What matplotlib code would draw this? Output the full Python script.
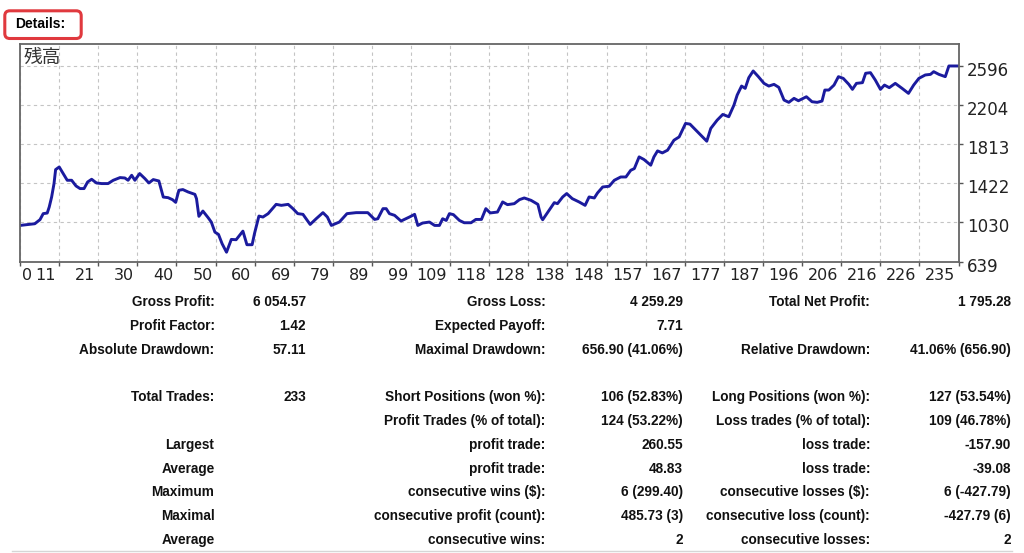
import numpy as np
import matplotlib.pyplot as plt
from matplotlib.patches import FancyBboxPatch
from matplotlib.transforms import ScaledTranslation
from matplotlib.lines import Line2D

# Balance curve (trade number, balance)
trade_no = [0, 3.7, 5, 5.8, 6.8, 7.3, 7.9, 8.5, 8.9, 9.8, 10.8, 11.8, 12.9, 14, 15, 16,
            16.9, 17.9, 19.1, 20.4, 22, 23.3, 25, 26.2, 27, 27.9, 28.7, 29.9, 31.2, 32.2,
            33.3, 34.7, 35.8, 37, 38.1, 38.9, 39.7, 40.7, 42, 43.7, 44.1, 44.7, 45.7, 47,
            47.8, 48.7, 49.6, 50.5, 51.6, 52.8, 54, 55.7, 56.7, 58, 58.6, 59.7, 60.7, 62,
            64, 65.3, 67, 68.2, 69.4, 70.7, 72.5, 74, 75.7, 76.8, 77.8, 79.8, 81.7, 84,
            86.9, 88.6, 89.4, 90.7, 91.5, 92.3, 93.6, 95.2, 97.3, 98.6, 99.4, 100.6, 102.3,
            103.6, 104.8, 105.6, 106.5, 107.3, 108.3, 109.8, 111, 112.7, 113.9, 115.3,
            116.4, 117.5, 119.3, 120.6, 121.8, 123.5, 124.8, 126, 127.7, 129.4, 130.2,
            130.6, 132.2, 133.5, 134.3, 135.6, 136.6, 138, 139.7, 141.2, 142.2, 143.5,
            144.3, 145.6, 147.2, 148.5, 150.1, 151.4, 152.6, 153.5, 154.7, 155.9, 157.6,
            158.4, 159.3, 160.5, 161.8, 163.4, 164.7, 166.3, 167.4, 169.3, 171.6, 172.6,
            174.2, 175.6, 177.1, 178.4, 179.2, 180.3, 181.2, 182.1, 183.2, 184.5, 185.9,
            187.1, 188.4, 189.6, 190.9, 192.1, 193.4, 194.5, 196.5, 197.9, 199.2, 200.4,
            201.1, 202.1, 203.4, 204.5, 205.7, 207.1, 208, 209, 210.5, 211.3, 212.5, 213.7,
            215, 216, 217.2, 218.7, 220.4, 222, 223.3, 224.6, 226.2, 227.5, 228.3, 229.6,
            231.2, 232.1, 234.4]
balance = [1000, 1017, 1058, 1118, 1124, 1184, 1284, 1419, 1559, 1585, 1519, 1452, 1452,
           1395, 1369, 1369, 1435, 1462, 1425, 1419, 1419, 1452, 1479, 1475, 1452, 1502,
           1452, 1519, 1469, 1425, 1459, 1445, 1284, 1278, 1258, 1231, 1352, 1359, 1335,
           1311, 1268, 1091, 1144, 1078, 1034, 933, 910, 817, 732, 860, 857, 943, 807, 807,
           920, 1094, 1084, 1118, 1211, 1201, 1211, 1168, 1118, 1111, 1010, 1067, 1128,
           1084, 1000, 1034, 1118, 1128, 1128, 1060, 1067, 1168, 1168, 1118, 1101, 1044,
           1084, 1111, 1000, 1024, 1034, 1000, 1000, 1067, 1050, 1118, 1108, 1050, 1027,
           1027, 1060, 1060, 1168, 1125, 1134, 1235, 1208, 1218, 1258, 1275, 1251, 1211,
           1084, 1057, 1151, 1228, 1218, 1285, 1319, 1268, 1235, 1201, 1285, 1275, 1325,
           1385, 1392, 1452, 1485, 1485, 1552, 1569, 1686, 1660, 1603, 1686, 1746, 1726,
           1753, 1853, 1886, 2021, 2014, 1937, 1843, 1971, 2054, 2111, 2088, 2205, 2305,
           2395, 2372, 2479, 2546, 2489, 2422, 2395, 2412, 2382, 2255, 2232, 2272, 2248,
           2288, 2238, 2232, 2245, 2355, 2355, 2405, 2489, 2472, 2412, 2362, 2422, 2429,
           2523, 2529, 2456, 2362, 2405, 2379, 2422, 2372, 2322, 2405, 2472, 2506, 2512,
           2539, 2512, 2489, 2596, 2596]

x_tick_labels = ['0', '11', '21', '30', '40', '50', '60', '69', '79', '89', '99', '109',
                 '118', '128', '138', '148', '157', '167', '177', '187', '196', '206',
                 '216', '226', '235']
y_tick_values = [639, 1030.4, 1421.8, 1813.2, 2204.6, 2596]
y_tick_labels = ['639', '1030', '1422', '1813', '2204', '2596']

# Report table, one entry per row ('' = empty cell)
col1_labels = ['Gross Profit:', 'Profit Factor:', 'Absolute Drawdown:', '', 'Total Trades:',
               '', 'Largest', 'Average', 'Maximum', 'Maximal', 'Average']
col1_values = ['6 054.57', '1.42', '57.11', '', '233', '', '', '', '', '', '']
col2_labels = ['Gross Loss:', 'Expected Payoff:', 'Maximal Drawdown:', '',
               'Short Positions (won %):', 'Profit Trades (% of total):', 'profit trade:',
               'profit trade:', 'consecutive wins ($):', 'consecutive profit (count):',
               'consecutive wins:']
col2_values = ['4 259.29', '7.71', '656.90 (41.06%)', '', '106 (52.83%)', '124 (53.22%)',
               '260.55', '48.83', '6 (299.40)', '485.73 (3)', '2']
col3_labels = ['Total Net Profit:', '', 'Relative Drawdown:', '', 'Long Positions (won %):',
               'Loss trades (% of total):', 'loss trade:', 'loss trade:',
               'consecutive losses ($):', 'consecutive loss (count):', 'consecutive losses:']
col3_values = ['1 795.28', '', '41.06% (656.90)', '', '127 (53.54%)', '109 (46.78%)',
               '-157.90', '-39.08', '6 (-427.79)', '-427.79 (6)', '2']

W, H = 1024, 553
fig = plt.figure(figsize=(W / 100, H / 100), dpi=100)


def fx(px):
    return px / W


def fy(py):
    return 1 - py / H


# --- balance chart
ax = fig.add_axes([fx(20), fy(261.5), fx(958.5) - fx(20), fy(44) - fy(261.5)])
ax.plot(trade_no, balance, color='#1b1b9e', lw=2.1, solid_joinstyle='round')
ax.set_xlim(0, 234.5)
ax.set_ylim(639, 2816)
ax.set_xticks(np.linspace(0, 234.5, len(x_tick_labels)))
ax.set_xticklabels(x_tick_labels)
ax.set_yticks(y_tick_values)
ax.set_yticklabels(y_tick_labels)
ax.yaxis.tick_right()
ax.grid(True, ls=(0, (3, 3)), color='#c4c4c4', lw=0.8)
ax.tick_params(direction='out', length=3, width=1, color='#555555', labelsize=11.5,
               labelcolor='#222222', pad=2)
ax.tick_params(axis='y', pad=3, labelsize=12)
for sp in ax.spines.values():
    sp.set_color('#666666')
    sp.set_linewidth(1.3)

for i, lab in enumerate(ax.get_xticklabels()):
    if i == 0:
        lab.set_ha('left')
        lab.set_transform(lab.get_transform() + ScaledTranslation(2 / 100, 0, fig.dpi_scale_trans))
    else:
        lab.set_ha('right')
        lab.set_transform(lab.get_transform() + ScaledTranslation(-3 / 100, 0, fig.dpi_scale_trans))
for lab in ax.get_yticklabels():
    lab.set_transform(lab.get_transform() + ScaledTranslation(0, -3 / 100, fig.dpi_scale_trans))

ax.text(0.004, 0.985, '残高', transform=ax.transAxes, ha='left', va='top', fontsize=13.5,
        family=['Noto Sans CJK JP', 'DejaVu Sans'], color='#333333')

# --- "Details:" header with red rounded box
box = FancyBboxPatch((4.8 / 100, (H - 38.5) / 100), 76.4 / 100, 27.7 / 100,
                     boxstyle='round,pad=0,rounding_size=0.05', transform=fig.dpi_scale_trans,
                     fill=False, edgecolor='#e0393e', lw=2.2)
fig.patches.append(box)
fig.text(fx(15.5), fy(24), 'Details:', ha='left', va='center', fontsize=10,
         fontweight='bold', family='Liberation Sans')

# --- statistics table
cols = [(col1_labels, 214.5), (col1_values, 306), (col2_labels, 545.5), (col2_values, 683),
        (col3_labels, 870), (col3_values, 1011)]
for texts, xr in cols:
    for i, t in enumerate(texts):
        if t:
            fig.text(fx(xr), fy(302 + i * 23.8), t, ha='right', va='center', fontsize=9.8,
                     fontweight='bold', family='Liberation Sans', color='#111111')

fig.lines.append(Line2D([fx(12), fx(1012)], [fy(550.5), fy(550.5)], transform=fig.transFigure,
                        color='#d6d6d6', lw=1))

fig.savefig('out.png', dpi=100)
